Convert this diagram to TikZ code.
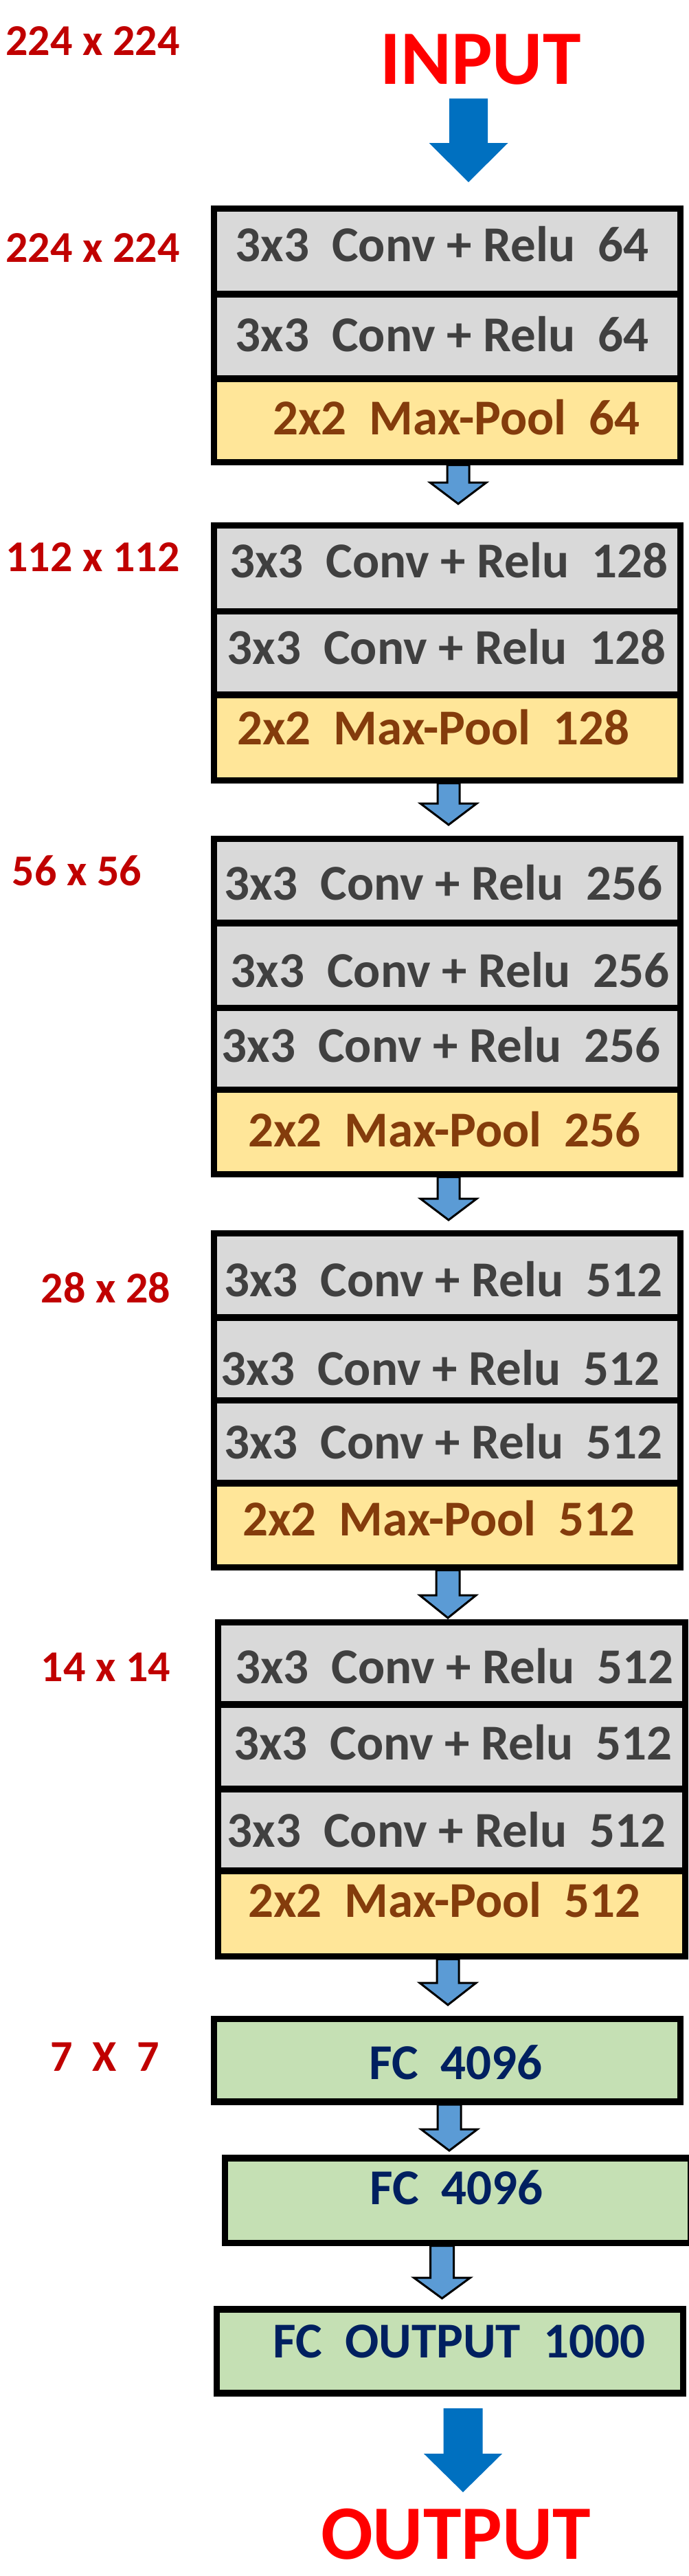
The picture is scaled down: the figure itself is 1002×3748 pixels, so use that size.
\documentclass[tikz,border=0pt]{standalone}
\usepackage{fontspec}
\setmainfont{Carlito}
\usetikzlibrary{calc,fit}
\definecolor{convgray}{HTML}{D9D9D9}
\definecolor{poolyel}{HTML}{FFE699}
\definecolor{fcgreen}{HTML}{C5E0B4}
\definecolor{convtxt}{HTML}{404040}
\definecolor{pooltxt}{HTML}{843C0C}
\definecolor{fctxt}{HTML}{002060}
\definecolor{dimred}{HTML}{C00000}
\definecolor{iored}{HTML}{FF0000}
\definecolor{bigblue}{HTML}{0070C0}
\definecolor{smallblue}{HTML}{5B9BD5}
% block arrow: #1 options, #2 start (y used), #3 tip, #4 shaft half, #5 head half, #6 head length
\newcommand\blockarr[6]{%
  \path[#1] let \p1=(#2), \p2=(#3) in
    (\x2-#4,\y1) -- (\x2+#4,\y1) -- (\x2+#4,\y2+#6) -- (\x2+#5,\y2+#6) --
    (\x2,\y2) -- (\x2-#5,\y2+#6) -- (\x2-#4,\y2+#6) -- cycle;}
\begin{document}
\begin{tikzpicture}[x=1pt,y=-1pt,
  layer/.style={draw=black,line width=9.5pt,inner sep=0pt,outer sep=0pt},
  conv/.style={layer,fill=convgray},
  pool/.style={layer,fill=poolyel},
  fc/.style={layer,fill=fcgreen},
  txt/.style={inner sep=0pt,font=\fontsize{73}{80}\selectfont\bfseries},
  convt/.style={txt,text=convtxt},
  poolt/.style={txt,text=pooltxt},
  fct/.style={txt,text=fctxt},
  dimt/.style={inner sep=0pt,text=dimred,font=\fontsize{64}{70}\selectfont\bfseries},
  iot/.style={inner sep=0pt,text=iored,font=\fontsize{112}{120}\selectfont\bfseries},
  smallarr/.style={fill=smallblue,draw=black,line width=3pt,line join=miter},
  bigarr/.style={fill=bigblue}
]
\useasboundingbox (0,0) rectangle (1002,3748);

% ---------- size labels ----------
\node[dimt] (d0) at (135,59.5) {224 x 224};
\node[dimt] (d1) at (135,360.5) {224 x 224};
\node[dimt] (d2) at (135,810.5) {112 x 112};
\node[dimt] (d3) at (112,1266.5) {56 x 56};
\node[dimt] (d4) at (154,1874) {28 x 28};
\node[dimt] (d5) at (154,2426) {14 x 14};
\node[dimt] (d6) at (152.5,2992.5) {7~~X~~7};

% ---------- input / output ----------
\node[iot] (inp) at (699.5,86.5) {INPUT};
\node[iot] (outp) at (663.5,3687) {OUTPUT};

% ---------- block 1 ----------
\node[conv,fit={(311.5,303.5) (990.5,428)}] (b1r1) {};
\node[conv,fit={(311.5,428) (990.5,551)}] (b1r2) {};
\node[pool,fit={(311.5,551) (990.5,672.5)}] (b1r3) {};
\node[convt] (t1a) at (643.5,355) {3x3~~Conv + Relu~~64};
\node[convt] (t1b) at (643.5,486) {3x3~~Conv + Relu~~64};
\node[poolt] (t1c) at (664.5,607) {2x2~~Max-Pool~~64};

% ---------- block 2 ----------
\node[conv,fit={(311.5,764.5) (990.5,889.5)}] (b2r1) {};
\node[conv,fit={(311.5,889.5) (990.5,1011)}] (b2r2) {};
\node[pool,fit={(311.5,1011) (990.5,1135.5)}] (b2r3) {};
\node[convt] (t2a) at (653.5,815) {3x3~~Conv + Relu~~128};
\node[convt] (t2b) at (650,941) {3x3~~Conv + Relu~~128};
\node[poolt] (t2c) at (631,1058) {2x2~~Max-Pool~~128};

% ---------- block 3 ----------
\node[conv,fit={(311.5,1220.5) (990.5,1343)}] (b3r1) {};
\node[conv,fit={(311.5,1343) (990.5,1466.5)}] (b3r2) {};
\node[conv,fit={(311.5,1466.5) (990.5,1585.5)}] (b3r3) {};
\node[pool,fit={(311.5,1585.5) (990.5,1708.5)}] (b3r4) {};
\node[convt] (t3a) at (645.5,1284) {3x3~~Conv + Relu~~256};
\node[convt] (t3b) at (655,1411) {3x3~~Conv + Relu~~256};
\node[convt] (t3c) at (642,1520) {3x3~~Conv + Relu~~256};
\node[poolt] (t3d) at (647,1643) {2x2~~Max-Pool~~256};

% ---------- block 4 ----------
\node[conv,fit={(311.5,1794.5) (990.5,1917)}] (b4r1) {};
\node[conv,fit={(311.5,1917) (990.5,2037.5)}] (b4r2) {};
\node[conv,fit={(311.5,2037.5) (990.5,2158)}] (b4r3) {};
\node[pool,fit={(311.5,2158) (990.5,2280.5)}] (b4r4) {};
\node[convt] (t4a) at (645.5,1861) {3x3~~Conv + Relu~~512};
\node[convt] (t4b) at (641,1990) {3x3~~Conv + Relu~~512};
\node[convt] (t4c) at (645.5,2097) {3x3~~Conv + Relu~~512};
\node[poolt] (t4d) at (639,2209) {2x2~~Max-Pool~~512};

% ---------- block 5 ----------
\node[conv,fit={(317.5,2360.5) (997.5,2480)}] (b5r1) {};
\node[conv,fit={(317.5,2480) (997.5,2603)}] (b5r2) {};
\node[conv,fit={(317.5,2603) (997.5,2722)}] (b5r3) {};
\node[pool,fit={(317.5,2722) (997.5,2846.5)}] (b5r4) {};
\node[convt] (t5a) at (661.5,2424) {3x3~~Conv + Relu~~512};
\node[convt] (t5b) at (659.5,2535) {3x3~~Conv + Relu~~512};
\node[convt] (t5c) at (650,2662) {3x3~~Conv + Relu~~512};
\node[poolt] (t5d) at (647,2764) {2x2~~Max-Pool~~512};

% ---------- fully connected ----------
\node[fc,fit={(311.5,2937.5) (990.5,3058)}] (b6) {};
\node[fc,fit={(327.5,3140) (1006,3263.5)}] (b7) {};
\node[fc,fit={(315.5,3360) (994.5,3482)}] (b8) {};
\node[fct] (t6) at (663.5,3001) {FC~~4096};
\node[fct] (t7) at (664.5,3183) {FC~~4096};
\node[fct] (t8) at (668.5,3407) {FC~~OUTPUT~~1000};

% ---------- arrows ----------
\coordinate (tip0) at (682,265);
\coordinate (tip1) at (667,733);
\coordinate (tip2) at (653,1200);
\coordinate (tip3) at (653,1775);
\coordinate (tip4) at (652,2354);
\coordinate (tip5) at (652,2917);
\coordinate (tip6) at (654,3129);
\coordinate (tip7) at (643.5,3344);
\coordinate (tip8) at (674,3626);

\blockarr{bigarr}{$(inp.south)+(0,20)$}{tip0}{28pt}{57.5pt}{57pt}
\blockarr{smallarr}{$(b1r3.south)+(0,4)$}{tip1}{16pt}{41pt}{31pt}
\blockarr{smallarr}{$(b2r3.south)+(0,4)$}{tip2}{16pt}{41pt}{31pt}
\blockarr{smallarr}{$(b3r4.south)+(0,4)$}{tip3}{16pt}{41pt}{31pt}
\blockarr{smallarr}{$(b4r4.south)+(0,4)$}{tip4}{17pt}{41pt}{33pt}
\blockarr{smallarr}{$(b5r4.south)+(0,4)$}{tip5}{16pt}{41pt}{32pt}
\blockarr{smallarr}{$(b6.south)+(0,4)$}{tip6}{17pt}{41pt}{31pt}
\blockarr{smallarr}{$(b7.south)+(0,4)$}{tip7}{17pt}{41pt}{30pt}
\blockarr{bigarr}{$(b8.south)+(0,22)$}{tip8}{28.5pt}{57pt}{56pt}
\end{tikzpicture}
\end{document}
